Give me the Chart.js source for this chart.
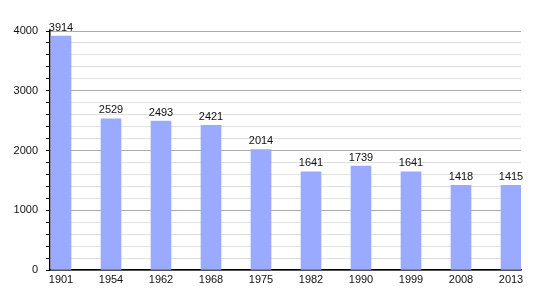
<!DOCTYPE html>
<html>
<head>
<meta charset="utf-8">
<script src="https://cdn.jsdelivr.net/npm/chart.js@4"></script>
<style>
  html, body { margin: 0; padding: 0; background: #fff; }
  #wrap { width: 550px; height: 300px; }
</style>
</head>
<body>
<div id="wrap"><canvas id="chart"></canvas></div>
<script>
const years = ['1901', '1954', '1962', '1968', '1975', '1982', '1990', '1999', '2008', '2013'];
const population = [3914, 2529, 2493, 2421, 2014, 1641, 1739, 1641, 1418, 1415];

Chart.defaults.font.family = '"Liberation Sans", Arial, sans-serif';
Chart.defaults.font.size = 11;
Chart.defaults.color = '#222';

// value labels above each bar
const barLabels = {
  id: 'barLabels',
  afterDatasetsDraw(chart) {
    const { ctx } = chart;
    const meta = chart.getDatasetMeta(0);
    ctx.save();
    ctx.font = '11px "Liberation Sans", Arial, sans-serif';
    ctx.fillStyle = '#111';
    ctx.textAlign = 'center';
    ctx.textBaseline = 'bottom';
    meta.data.forEach((bar, i) => {
      ctx.fillText(population[i], bar.x, bar.y - 3);
    });
    ctx.restore();
  },
};

const canvas = document.querySelector('#chart');
new Chart(canvas, {
  type: 'bar',
  data: {
    datasets: [{
      data: population.map((v, i) => ({ x: i, y: v })),
      backgroundColor: '#99aaff',
      barThickness: 20,
    }],
  },
  options: {
    responsive: true,
    maintainAspectRatio: false,
    animation: false,
    layout: { padding: { left: 0, right: 29, top: 31, bottom: 0 } },
    plugins: { legend: { display: false }, tooltip: { enabled: false } },
    scales: {
      x: {
        type: 'linear',
        offset: false,
        min: -0.22,
        max: 9.2,
        afterFit: (scale) => { scale.height = 30; },
        afterBuildTicks: (scale) => {
          scale.ticks = years.map((y, i) => ({ value: i }));
        },
        ticks: {
          autoSkip: false,
          maxRotation: 0,
          padding: 3,
          color: '#111',
          callback: (value) => years[value],
        },
        grid: { display: false, drawTicks: false },
        border: { color: '#000', width: 1.5 },
      },
      y: {
        min: 0,
        max: 4000,
        afterFit: (scale) => { scale.width = 50; },
        ticks: {
          stepSize: 200,
          autoSkip: false,
          padding: 8,
          color: '#111',
          callback: (value) => (value % 1000 === 0 ? value : ''),
        },
        grid: {
          color: (c) => (c.tick && c.tick.value % 1000 === 0 ? '#aaaaaa' : '#e0e0e0'),
          tickColor: '#000',
          tickLength: 4,
        },
        border: { color: '#000', width: 1.5 },
      },
    },
  },
  plugins: [barLabels],
});
</script>
</body>
</html>
